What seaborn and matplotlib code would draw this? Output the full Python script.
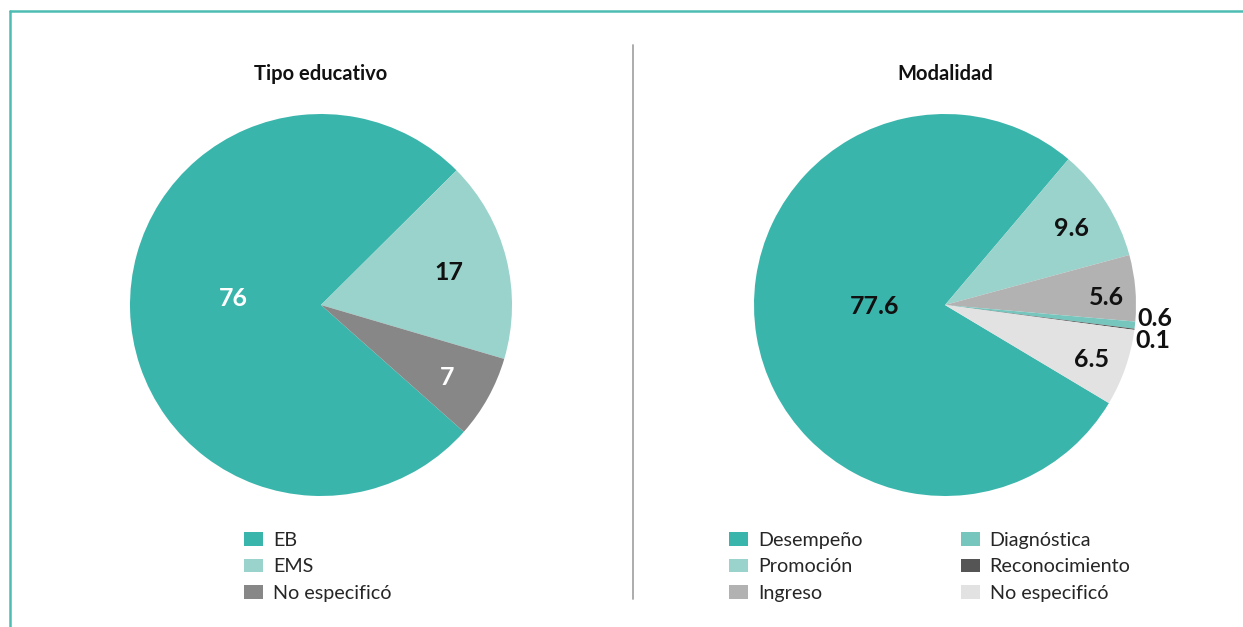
import matplotlib
matplotlib.use("Agg")
import numpy as np
import matplotlib.pyplot as plt
import seaborn as sns
from matplotlib.patches import Patch
from matplotlib.lines import Line2D

# data
tipo_labels = ["EB", "EMS", "No especificó"]
tipo_values = [76, 17, 7]
tipo_colors = ["#3AB5AC", "#99D3CB", "#878787"]

mod_labels = ["Desempeño", "Promoción", "Ingreso", "Diagnóstica", "Reconocimiento", "No especificó"]
mod_values = [77.6, 9.6, 5.6, 0.6, 0.1, 6.5]
mod_colors = ["#3AB5AC", "#99D3CB", "#B2B2B2", "#77C6BE", "#555555", "#E2E2E2"]

sns.set_theme(style="white")
plt.rcParams["font.family"] = ["Lato", "DejaVu Sans"]

fig = plt.figure(figsize=(12.43, 6.27), dpi=100)

W, H = 1243, 627


def pie_axes(cx, cy, r):
    return fig.add_axes([(cx - r) / W, (H - cy - r) / H, 2 * r / W, 2 * r / H])


def draw_pie(ax, values, colors, start, placements, title):
    wedges, _ = ax.pie(values, colors=colors, startangle=start, counterclock=False,
                       wedgeprops=dict(linewidth=0))
    ax.set_xlim(-1, 1)
    ax.set_ylim(-1, 1)
    ax.set_aspect("equal")
    ax.axis("off")
    for w, v, (dist, shift, col) in zip(wedges, values, placements):
        th = np.deg2rad((w.theta1 + w.theta2) / 2 + shift)
        ax.text(dist * np.cos(th), dist * np.sin(th), f"{v:g}", ha="center", va="center",
                fontsize=18, fontweight="bold", color=col)
    ax.text(0, 1.21, title, ha="center", va="center", fontsize=14.5, fontweight="bold",
            color="#111111")
    return wedges


ax1 = pie_axes(321, 305, 191)
draw_pie(ax1, tipo_values, tipo_colors, -41.6,
         [(0.46, -6, "white"), (0.69, 0, "#111111"), (0.76, -1, "white")],
         "Tipo educativo")

ax2 = pie_axes(945, 305, 191)
draw_pie(ax2, mod_values, mod_colors, -30.9,
         [(0.37, -8, "#111111"), (0.775, -1.5, "#111111"), (0.845, -2.5, "#111111"),
          (1.10, 2.5, "#111111"), (1.105, -2.5, "#111111"), (0.82, -1, "#111111")],
         "Modalidad")

leg_kw = dict(frameon=False, fontsize=14.2, handlelength=0.96, handleheight=0.66,
              handletextpad=0.5, labelspacing=0.48, borderpad=0, borderaxespad=0,
              loc="upper left")

h1 = [Patch(facecolor=c, edgecolor="none") for c in tipo_colors]
fig.legend(h1, tipo_labels, bbox_to_anchor=(244 / W, 1 - 532 / H), **leg_kw)

h2 = [Patch(facecolor=c, edgecolor="none") for c in mod_colors]
fig.legend(h2, mod_labels, ncol=2, columnspacing=5.0,
           bbox_to_anchor=(729 / W, 1 - 532 / H), **leg_kw)

# frame and separator
teal = "#4DBDB3"
fig.add_artist(Line2D([10 / W, 1], [1 - 11 / H, 1 - 11 / H], color=teal, lw=1.8))
fig.add_artist(Line2D([10 / W, 10 / W], [0, 1 - 11 / H], color=teal, lw=1.8))
fig.add_artist(Line2D([633 / W, 633 / W], [1 - 599 / H, 1 - 45 / H], color="#A6A6A6", lw=1.3))

fig.savefig("out.png", dpi=100, facecolor="white")
